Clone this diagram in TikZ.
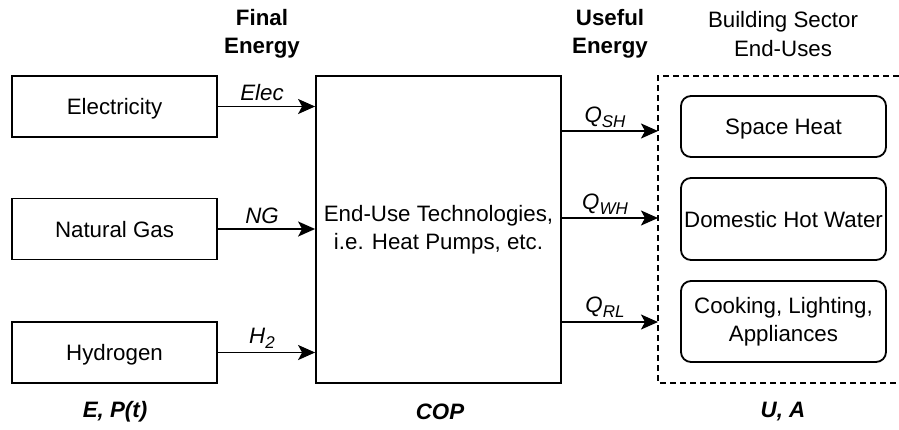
\documentclass[tikz,border=0pt]{standalone}
\usepackage{fontspec}
\setmainfont{Liberation Sans}
\usetikzlibrary{arrows.meta}
\newcommand\lowsub[1]{\raisebox{-0.45ex}{\fontsize{17}{17}\selectfont #1}}
\begin{document}
\begin{tikzpicture}[x=1pt,y=-1pt,
  every node/.style={font=\fontsize{22.3}{28.5}\selectfont},
  src/.style={draw, line width=1.8pt, minimum width=205pt, minimum height=61pt, inner sep=0pt, text depth=0pt},
  tech/.style={draw, line width=1.8pt, minimum width=245pt, minimum height=307pt, inner sep=0pt, align=center},
  enduse/.style={draw, line width=1.8pt, rounded corners=10pt, minimum width=205pt, inner sep=0pt, align=center},
  flow/.style={line width=1.8pt, -{Stealth[length=17pt,width=15pt,inset=4pt]}},
  lbl/.style={font=\fontsize{22.3}{25}\selectfont\itshape},
  head/.style={align=center, font=\fontsize{22.3}{28.5}\selectfont\bfseries},
  subhead/.style={align=center},
  foot/.style={font=\fontsize{22.3}{25}\selectfont\bfseries\itshape},
  group/.style={line width=1.6pt, dash pattern=on 6pt off 4pt}
]
\useasboundingbox (0,0) rectangle (899,429);

% sources
\node[src] (elec) at (114.5,106.5) {Electricity};
\node[src] (ng) at (114.5,229) {Natural Gas};
\node[src] (h2) at (114.5,352.5) {Hydrogen};

% technologies
\node[tech] (tech) at (438.5,229.5) {End-Use Technologies,\\i.e. Heat Pumps, etc.};

% end uses
\node[enduse, minimum height=61pt, text depth=0pt] (sh) at (783.5,126.5) {Space Heat};
\node[enduse, minimum height=82pt, text depth=0pt] (wh) at (783.5,219) {Domestic Hot Water};
\node[enduse, minimum height=81pt] (rl) at (783.5,321.5) {Cooking, Lighting,\\Appliances};

% dashed group (open at the right edge)
\coordinate (gtr) at (899,76);
\coordinate (gtl) at (658,76);
\coordinate (gbl) at (658,383);
\coordinate (gbr) at (899,383);
\draw[group] (gtr) -- (gtl) -- (gbl) -- (gbr);

% input flows
\draw[flow] (elec.east) -- (elec.east -| tech.west);
\draw[flow] (ng.east) -- (ng.east -| tech.west);
\draw[flow] (h2.east) -- (h2.east -| tech.west);
\node[lbl] (lelec) at (262,93) {Elec};
\node[lbl] (lng) at (262,216) {NG};
\node[lbl] (lh2) at (262,338) {H\lowsub{2}};

% output flows
\coordinate (d1) at (658,131);
\coordinate (d2) at (658,218);
\coordinate (d3) at (658,322);
\draw[flow] (d1 -| tech.east) -- (d1);
\draw[flow] (d2 -| tech.east) -- (d2);
\draw[flow] (d3 -| tech.east) -- (d3);
\node[lbl] (lsh) at (605,117) {Q\lowsub{SH}};
\node[lbl] (lwh) at (605,204) {Q\lowsub{WH}};
\node[lbl] (lrl) at (605,307) {Q\lowsub{RL}};

% headings
\node[head] (hfinal) at (262,34) {Final\\Energy};
\node[head] (huseful) at (610,34) {Useful\\Energy};
\node[subhead] (hbuild) at (783,34) {Building Sector\\End-Uses};

% footers
\node[foot] (fep) at (115,412) {E, P(t)};
\node[foot] (fcop) at (440,412) {COP};
\node[foot] (fua) at (783,412) {U, A};
\end{tikzpicture}
\end{document}
